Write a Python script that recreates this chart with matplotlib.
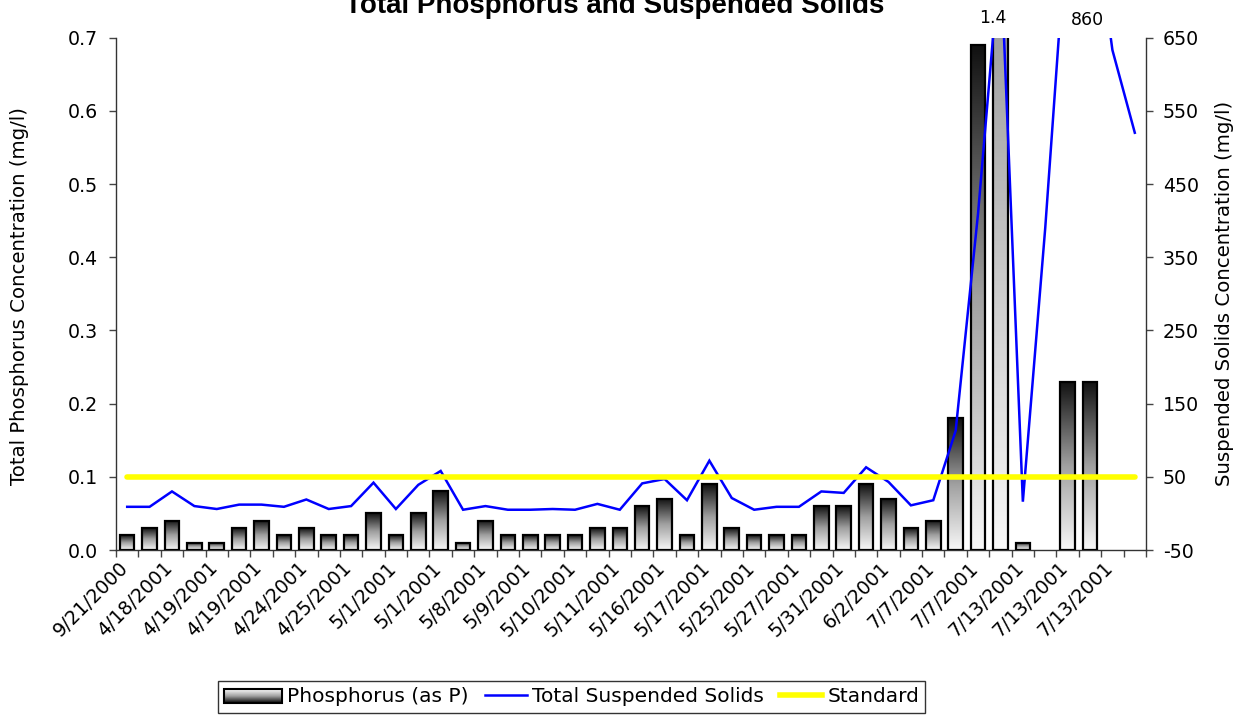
import numpy as np
import matplotlib
matplotlib.use("Agg")
import matplotlib.pyplot as plt
from matplotlib.patches import Rectangle
from matplotlib.legend_handler import HandlerBase
from matplotlib.lines import Line2D
from matplotlib.colors import LinearSegmentedColormap
from matplotlib.transforms import ScaledTranslation

plt.rcParams['font.family'] = ['DejaVu Sans']

# ---------------- data ----------------
title = "Total Phosphorus and Suspended Solids"
# labels shown on every other category
tick_labels = ["9/21/2000", "4/18/2001", "4/19/2001", "4/19/2001", "4/24/2001",
               "4/25/2001", "5/1/2001", "5/1/2001", "5/8/2001", "5/9/2001",
               "5/10/2001", "5/11/2001", "5/16/2001", "5/17/2001", "5/25/2001",
               "5/27/2001", "5/31/2001", "6/2/2001", "7/7/2001", "7/7/2001",
               "7/13/2001", "7/13/2001", "7/13/2001"]
phosphorus = [0.02, 0.03, 0.04, 0.01, 0.01, 0.03, 0.04, 0.02, 0.03, 0.02,
              0.02, 0.05, 0.02, 0.05, 0.08, 0.01, 0.04, 0.02, 0.02, 0.02,
              0.02, 0.03, 0.03, 0.06, 0.07, 0.02, 0.09, 0.03, 0.02, 0.02,
              0.02, 0.06, 0.06, 0.09, 0.07, 0.03, 0.04, 0.18, 0.69, 1.4,
              0.01, None, 0.23, 0.23, None, None]
tss = [9, 9, 30, 10, 6, 12, 12, 9, 19, 6,
       10, 42, 6, 39, 58, 5, 10, 5, 5, 6,
       5, 13, 5, 41, 47, 18, 72, 21, 5, 9,
       9, 30, 28, 63, 43, 11, 18, 113, 410, 770,
       16, 390, 820, 860, 633, 520]
standard = 0.1
label_p = "1.4"
label_tss = "860"

series_names = ["Phosphorus (as P)", "Total Suspended Solids", "Standard"]

FS = 13.7

# ---------------- figure ----------------
W, H = 1246, 715
fig = plt.figure(figsize=(W / 100, H / 100), dpi=100)
L, R, T, B = 116, 1146, 37.6, 550
ax = fig.add_axes([L / W, 1 - B / H, (R - L) / W, (B - T) / H])
ax2 = ax.twinx()

n = len(phosphorus)
x = np.arange(n) + 0.5

cmap = LinearSegmentedColormap.from_list("grad", ["#f8f8f8", "#a0a0a0", "#101010"])
grad = np.linspace(0, 1, 256).reshape(-1, 1)
bw = 0.65
for xi, v in zip(x, phosphorus):
    if v is None:
        continue
    rect = Rectangle((xi - bw / 2, 0), bw, v, facecolor='none',
                     edgecolor='black', lw=1.6, zorder=3)
    ax.add_patch(rect)
    im = ax.imshow(grad, cmap=cmap, extent=[xi - bw / 2, xi + bw / 2, 0, v],
                   origin='lower', aspect='auto', zorder=2,
                   interpolation='bilinear')
    im.set_clip_path(rect)
    im.set_clip_box(ax.bbox)

ax2.plot(x, tss, color='#0000ff', lw=1.8, zorder=3, solid_joinstyle='miter')
ax2.plot(x, [standard] * n, color='#ffff00', lw=4, zorder=4,
         solid_capstyle='round', transform=ax.transData)

ax.set_xlim(0, n)
ax.set_ylim(0, 0.7)
ax.set_aspect('auto')
ax2.set_ylim(-50, 650)

# x ticks: marks at category boundaries, labels on every other category
ax.set_xticks(np.arange(n + 1))
ax.set_xticklabels([])
ax.set_xticks(x[::2][:len(tick_labels)], minor=True)
ax.set_xticklabels(tick_labels, minor=True, rotation=45, ha='right',
                   va='top', rotation_mode='anchor', fontsize=FS)
ax.tick_params(axis='x', which='major', direction='out', length=5,
               width=1, color='#444444')
ax.tick_params(axis='x', which='minor', length=0, pad=6)
shift = ScaledTranslation(-9 / 100, 0, fig.dpi_scale_trans)
for lab in ax.get_xticklabels(minor=True):
    lab.set_transform(lab.get_transform() + shift)

ax.set_yticks(np.arange(0, 0.71, 0.1))
ax.set_yticklabels([f"{v:.1f}" for v in np.arange(0, 0.71, 0.1)], fontsize=FS)
ax.tick_params(axis='y', direction='out', length=5, width=1, color='#444444', pad=8)
ax2.set_yticks(np.arange(-50, 651, 100))
ax2.set_yticklabels([str(v) for v in range(-50, 651, 100)], fontsize=FS)
ax2.tick_params(axis='y', direction='out', length=5, width=1, color='#444444', pad=7)

for a in (ax, ax2):
    a.spines['top'].set_visible(False)
    for s in ('left', 'right', 'bottom'):
        a.spines[s].set_color('#333333')
        a.spines[s].set_linewidth(1)
ax.spines['right'].set_visible(False)
ax2.spines['left'].set_visible(False)
ax2.spines['bottom'].set_visible(False)

ax.set_ylabel("Total Phosphorus Concentration (mg/l)", fontsize=14.2, va='center')
ax.yaxis.set_label_coords((20 - L) / (R - L), 0.496)
ax2.set_ylabel("Suspended Solids Concentration (mg/l)", fontsize=14.2,
               va='center', rotation=90)
ax2.yaxis.set_label_coords((1224 - L) / (R - L), 0.5)

fig.text(615 / W, 1 - 13 / H, title, ha='center', va='baseline',
         fontsize=20, fontweight='bold', family='Liberation Sans')

# labels for off-scale values
ax.annotate(label_p, xy=(x[phosphorus.index(1.4)], 0.7), xycoords='data',
            xytext=(-8, 20), textcoords='offset pixels', ha='center',
            va='center', fontsize=12.5, annotation_clip=False)
ax2.annotate(label_tss, xy=(x[tss.index(860)], 650), xycoords='data',
             xytext=(-3, 18), textcoords='offset pixels', ha='center',
             va='center', fontsize=12.5, annotation_clip=False)


# legend with gradient patch and shorter line samples
class GradientHandler(HandlerBase):
    def create_artists(self, legend, orig_handle, xdescent, ydescent, width,
                       height, fontsize, trans):
        arts = []
        k = 14
        x0 = -xdescent
        w = width
        y0 = -ydescent + 0.0 * height
        h = height * 0.95
        for i in range(k):
            c = cmap(1 - i / (k - 1))
            r = Rectangle((x0, y0 + h * i / k), w, h / k, facecolor=c,
                          edgecolor='none', transform=trans)
            arts.append(r)
        arts.append(Rectangle((x0, y0), w, h, facecolor='none',
                              edgecolor='black', lw=1.5, transform=trans))
        return arts


class ShortLineHandler(HandlerBase):
    def create_artists(self, legend, orig_handle, xdescent, ydescent, width,
                       height, fontsize, trans):
        yc = -ydescent + height / 2
        ln = Line2D([-xdescent + 0.28 * width, -xdescent + width], [yc, yc],
                    color=orig_handle.get_color(), lw=orig_handle.get_linewidth(),
                    transform=trans)
        return [ln]


h_bar = Rectangle((0, 0), 1, 1)
h_tss = Line2D([], [], color='#0000ff', lw=1.8)
h_std = Line2D([], [], color='#ffff00', lw=4)
leg = fig.legend([h_bar, h_tss, h_std], series_names,
                 handler_map={Rectangle: GradientHandler(),
                              Line2D: ShortLineHandler()},
                 loc='center', bbox_to_anchor=(571.5 / W, 1 - 697 / H),
                 ncol=3, frameon=True, fancybox=False, fontsize=14.5,
                 handlelength=2.9, handletextpad=0.25, columnspacing=0.0,
                 borderpad=0.3, borderaxespad=0)
leg.get_frame().set_edgecolor('black')
leg.get_frame().set_linewidth(1)

fig.savefig("out.png", dpi=100)
